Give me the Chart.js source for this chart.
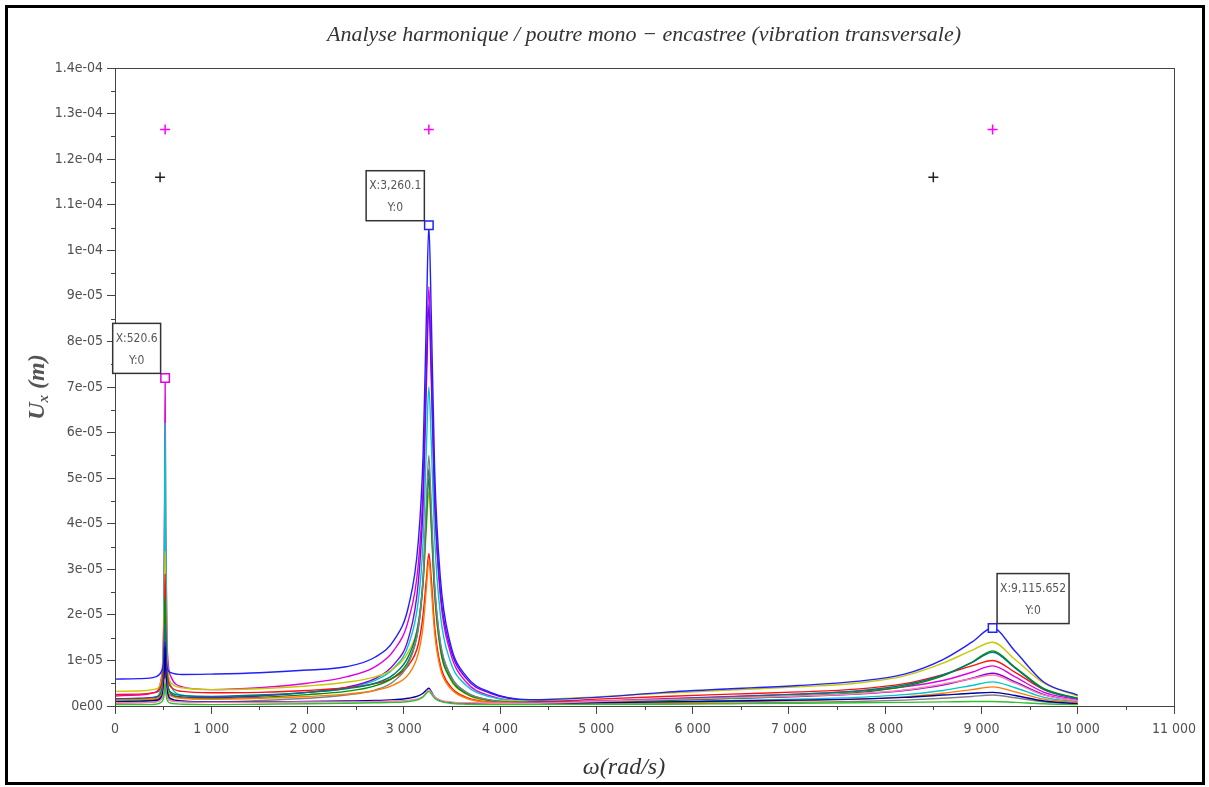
<!DOCTYPE html>
<html>
<head>
<meta charset="utf-8">
<script src="https://cdn.jsdelivr.net/npm/chart.js@4.4.1/dist/chart.umd.min.js"></script>
<style>
  html, body { margin: 0; padding: 0; background: #fff; }
  #wrap { width: 1209px; height: 787px; }
</style>
</head>
<body>
<div id="wrap"><canvas id="chart" width="1209" height="787"></canvas></div>
<script>
//frequencies (rad/s) shared by every curve
const omega = [0, 250, 420, 480, 505, 515, 520.6, 527, 540, 580, 700, 1000, 1500, 2000, 2400, 2700, 2900, 3050, 3150, 3200,
  3235, 3260.1, 3285, 3320, 3380, 3480, 3650, 3900, 4300, 5000, 5700, 6400, 7100, 7700, 8200, 8600, 8900, 9115.652, 9350, 9650, 10000];

//amplitude of each curve, in micrometres
const uBlue = [5.9, 6.0, 6.4, 7.5, 9.5, 12.5, 14.0, 11.5, 8.5, 7.3, 6.9, 7.0, 7.3, 7.9, 8.6, 10.7, 14.5, 22, 36, 55,
  86, 105.5, 86, 52, 28, 14, 6.5, 3.0, 1.4, 1.9, 3.0, 3.8, 4.5, 5.4, 7.0, 10.2, 14.0, 17.1, 12.0, 5.2, 2.4];
const uMagenta = [2.2, 2.4, 3.0, 6.0, 18, 45, 72, 40, 14, 6.5, 4.2, 3.6, 4.0, 5.0, 6.4, 8.6, 12.3, 19, 31, 48,
  75, 92, 75, 46, 24, 12, 5.2, 2.2, 1.0, 1.1, 1.6, 2.1, 2.6, 3.2, 4.2, 5.6, 7.4, 8.8, 6.4, 3.0, 1.4];
const uPurple = [1.6, 1.7, 2.0, 2.8, 4.5, 7.5, 10, 6.8, 3.6, 2.4, 2.0, 1.8, 2.2, 3.0, 4.1, 6.0, 9.2, 15, 27, 44,
  71, 88, 72, 45, 25, 13, 6.0, 2.8, 1.2, 0.9, 1.3, 1.7, 2.1, 2.6, 3.4, 4.6, 6.1, 7.2, 5.3, 2.5, 1.1];
const uCyan = [1.1, 1.2, 1.6, 4.5, 15, 40, 62, 36, 12, 4.5, 2.4, 2.0, 2.3, 3.0, 3.9, 5.6, 8.4, 13.5, 23, 36,
  57, 70, 58, 37, 20, 10, 4.5, 2.0, 0.9, 0.6, 0.9, 1.2, 1.5, 1.9, 2.5, 3.4, 4.5, 5.3, 4.0, 1.9, 0.9];
const uGray = [0.6, 0.7, 0.9, 1.6, 3.2, 5.8, 8, 5.4, 2.6, 1.4, 1.0, 0.9, 1.2, 1.7, 2.4, 3.5, 5.5, 9.5, 17, 28,
  45, 55, 44, 27, 14, 7, 3.0, 1.3, 0.5, 0.4, 0.5, 0.6, 0.8, 1.0, 1.3, 1.7, 2.1, 2.4, 1.8, 0.9, 0.4];
const uTeal = [1.5, 1.6, 1.9, 3.2, 7.0, 13, 18, 12, 5.5, 3.0, 2.3, 2.1, 2.4, 3.0, 3.8, 5.0, 7.0, 11, 18, 28,
  43, 52, 42, 26, 13.5, 6.8, 3.0, 1.3, 0.8, 1.0, 1.5, 2.0, 2.6, 3.3, 4.6, 6.8, 9.5, 11.8, 8.3, 3.6, 1.6];
const uGreen = [1.0, 1.1, 1.4, 3.0, 8.0, 16, 24, 15, 6.5, 2.8, 1.8, 1.6, 1.9, 2.5, 3.2, 4.4, 6.4, 10, 17, 27,
  41, 50, 40, 25, 12.5, 6.2, 2.7, 1.2, 0.6, 0.8, 1.2, 1.7, 2.2, 2.9, 4.3, 6.6, 9.6, 12.1, 8.5, 3.8, 1.7];
const uOlive = [3.2, 3.3, 3.7, 5.5, 12, 24, 34, 22, 9.5, 5.2, 4.0, 3.6, 3.8, 4.4, 5.2, 6.4, 8.3, 12, 18, 27,
  39, 47, 39, 24, 12.5, 6.0, 2.6, 1.2, 1.3, 2.0, 2.8, 3.5, 4.2, 5.0, 6.6, 9.4, 12.2, 14, 10.2, 5.0, 2.2];
const uRed = [2.5, 2.6, 3.0, 4.6, 10.5, 20, 29, 19, 8.0, 4.2, 3.2, 2.9, 3.0, 3.4, 4.0, 4.9, 6.3, 9.0, 13.5, 20,
  28, 33.5, 28, 17.5, 9.0, 4.4, 1.9, 0.9, 0.8, 1.5, 2.1, 2.6, 3.1, 3.7, 4.9, 6.9, 8.8, 10, 7.4, 3.6, 1.6];
const uOrange = [1.3, 1.4, 1.6, 2.4, 5.0, 9.0, 12, 8.2, 4.0, 2.2, 1.7, 1.5, 1.7, 2.1, 2.6, 3.4, 4.7, 7.0, 11.5, 17.5,
  26, 32, 26, 16, 8.2, 4.0, 1.7, 0.8, 0.4, 0.5, 0.7, 0.9, 1.2, 1.5, 2.0, 2.8, 3.6, 4.2, 3.1, 1.5, 0.7];
const uPink = [0.7, 0.8, 0.9, 1.4, 2.6, 4.4, 6.0, 4.0, 2.0, 1.1, 0.9, 0.8, 0.8, 0.9, 0.9, 1.0, 1.1, 1.3, 1.6, 2.1,
  3.0, 3.6, 3.0, 2.0, 1.3, 0.9, 0.7, 0.6, 0.6, 1.0, 1.4, 1.8, 2.2, 2.7, 3.5, 4.8, 6.0, 6.8, 5.0, 2.4, 1.1];
const uNavy = [0.9, 1.0, 1.2, 2.0, 4.5, 9.0, 13, 8.5, 3.6, 1.6, 1.1, 0.9, 0.9, 1.0, 1.1, 1.2, 1.4, 1.7, 2.2, 2.8,
  3.5, 3.9, 3.2, 2.0, 1.2, 0.8, 0.6, 0.5, 0.5, 0.7, 0.9, 1.1, 1.3, 1.5, 1.9, 2.4, 2.8, 3.0, 2.3, 1.1, 0.5];
const uLime = [0.3, 0.3, 0.4, 0.8, 1.8, 3.4, 5.0, 3.2, 1.4, 0.6, 0.4, 0.3, 0.4, 0.5, 0.6, 0.7, 0.8, 1.0, 1.4, 2.0,
  2.8, 3.2, 2.7, 1.7, 1.0, 0.6, 0.4, 0.3, 0.3, 0.4, 0.4, 0.5, 0.6, 0.7, 0.8, 0.9, 1.0, 1.0, 0.8, 0.5, 0.3];

//datatips (picked points)
const tipX = [520.6, 3260.1, 9115.652];
const tipY = [72, 105.5, 17.1];
const tipLabels = [["X:520.6", "Y:0"], ["X:3,260.1", "Y:0"], ["X:9,115.652", "Y:0"]];

//"+" markers
const plusMagentaX = [520.6, 3260.1, 9115.652];
const plusMagentaY = [126.5, 126.5, 126.5];
const plusBlackX = [468, 8500];
const plusBlackY = [116, 116];

//axis ticks
const xTicks = [0, 1000, 2000, 3000, 4000, 5000, 6000, 7000, 8000, 9000, 10000, 11000];
const yTicks = [0, 10, 20, 30, 40, 50, 60, 70, 80, 90, 100, 110, 120, 130, 140];

const labelFont = "'DejaVu Sans Condensed', 'Liberation Sans Narrow', sans-serif";
const titleFont = "'Liberation Serif', 'DejaVu Serif', serif";

const toPoints = (xs, ys) => xs.map((x, i) => ({ x: x, y: ys[i] }));

//first in list is drawn on top (smaller peaks above bigger ones, like the original)
const curves = [
  { data: uLime, color: "#30c030" },
  { data: uPink, color: "#ff80b0" },
  { data: uNavy, color: "#0000a0" },
  { data: uOrange, color: "#ff7a00" },
  { data: uGray, color: "#808080" },
  { data: uBlue, color: "#2020ff" },
  { data: uTeal, color: "#007878" },
  { data: uGreen, color: "#009000" },
  { data: uRed, color: "#ff1010" },
  { data: uOlive, color: "#c8c800" },
  { data: uPurple, color: "#8000e0" },
  { data: uCyan, color: "#00c8c8" },
  { data: uMagenta, color: "#e000e0" },
];

const datasets = [
  {
    data: toPoints(tipX, tipY),
    showLine: false,
    pointStyle: "rect",
    pointRadius: 6,
    pointBorderWidth: 1.5,
    pointBackgroundColor: "#ffffff",
    pointBorderColor: ["#e000e0", "#2020ff", "#2020ff"],
  },
  {
    data: toPoints(plusMagentaX, plusMagentaY),
    showLine: false,
    pointStyle: "cross",
    pointRadius: 5,
    pointBorderWidth: 1.5,
    pointBorderColor: "#ff00ff",
  },
  {
    data: toPoints(plusBlackX, plusBlackY),
    showLine: false,
    pointStyle: "cross",
    pointRadius: 5,
    pointBorderWidth: 1.5,
    pointBorderColor: "#222222",
  },
];
curves.forEach((c) => {
  datasets.push({
    data: toPoints(omega, c.data),
    borderColor: c.color,
    borderWidth: 1.4,
    pointRadius: 0,
    cubicInterpolationMode: "monotone",
    fill: false,
  });
});

//y labels like scilab : 1.4e-04, 9e-05, 0e00
const yLabel = (v) => {
  if (v === 0) return "0e00";
  let m = v;
  let e = -6;
  while (m >= 10) { m /= 10; e++; }
  return `${+m.toFixed(1)}e-0${-e}`;
};
const xLabel = (v) => String(v).replace(/\B(?=(\d{3})+(?!\d))/g, " ");

//frame, minor ticks, titles and datatip boxes
const decor = {
  id: "decor",
  beforeDraw(chart) {
    const ctx = chart.ctx;
    ctx.save();
    ctx.fillStyle = "#ffffff";
    ctx.fillRect(0, 0, chart.width, chart.height);
    ctx.restore();
  },
  afterDraw(chart) {
    const ctx = chart.ctx;
    const a = chart.chartArea;
    const xs = chart.scales.x;
    const ys = chart.scales.y;
    ctx.save();
    //box around plot
    ctx.strokeStyle = "#444";
    ctx.lineWidth = 1;
    ctx.strokeRect(a.left + 0.5, a.top + 0.5, a.right - a.left, a.bottom - a.top);
    //minor ticks
    ctx.beginPath();
    for (let v = 500; v < 11000; v += 1000) {
      const px = Math.round(xs.getPixelForValue(v)) + 0.5;
      ctx.moveTo(px, a.bottom);
      ctx.lineTo(px, a.bottom + 4);
    }
    for (let v = 5; v < 140; v += 10) {
      const py = Math.round(ys.getPixelForValue(v)) + 0.5;
      ctx.moveTo(a.left, py);
      ctx.lineTo(a.left - 4, py);
    }
    ctx.stroke();

    //outer frame
    ctx.strokeStyle = "#000";
    ctx.lineWidth = 3;
    ctx.strokeRect(6.5, 6.5, 1197, 777);

    //title
    ctx.fillStyle = "#333";
    ctx.textAlign = "center";
    ctx.textBaseline = "middle";
    ctx.font = `italic 22px ${titleFont}`;
    ctx.fillText("Analyse harmonique / poutre mono \u2212 encastree (vibration transversale)", 644, 35);

    //x axis title
    ctx.font = `italic 24px ${titleFont}`;
    ctx.fillText("\u03c9(rad/s)", 624, 768);

    //y axis title with subscript
    ctx.save();
    ctx.translate(36, 387);
    ctx.rotate(-Math.PI / 2);
    ctx.fillStyle = "#555";
    ctx.textAlign = "left";
    ctx.textBaseline = "alphabetic";
    const big = `italic bold 24px ${titleFont}`;
    const small = `italic bold 15px ${titleFont}`;
    ctx.font = big;
    const wU = ctx.measureText("U").width;
    const wM = ctx.measureText(" (m)").width;
    ctx.font = small;
    const wx = ctx.measureText("x").width;
    let x0 = -(wU + wx + wM) / 2;
    ctx.font = big;
    ctx.fillText("U", x0, 8);
    ctx.font = small;
    ctx.fillText("x", x0 + wU, 12);
    ctx.font = big;
    ctx.fillText(" (m)", x0 + wU + wx, 8);
    ctx.restore();

    //datatip boxes
    ctx.font = `12px ${labelFont}`;
    ctx.lineWidth = 1.5;
    ctx.strokeStyle = "#333";
    tipX.forEach((tx, i) => {
      const px = xs.getPixelForValue(tx);
      const py = ys.getPixelForValue(tipY[i]);
      const lines = tipLabels[i];
      const w = Math.max(...lines.map((l) => ctx.measureText(l).width)) + 6;
      const h = 50;
      const left = i === 2 ? px + 4.5 : px - 4.5 - w;
      const top = py - 4.5 - h;
      ctx.fillStyle = "#fff";
      ctx.fillRect(left, top, w, h);
      ctx.strokeRect(left, top, w, h);
      ctx.fillStyle = "#555";
      ctx.textAlign = "center";
      ctx.textBaseline = "middle";
      ctx.fillText(lines[0], left + w / 2, top + 15);
      ctx.fillText(lines[1], left + w / 2, top + 37);
    });
    ctx.restore();
  },
};

const myChart = new Chart(document.getElementById("chart"), {
  type: "line",
  data: { datasets: datasets },
  plugins: [decor],
  options: {
    responsive: false,
    animation: false,
    layout: { padding: { left: 0, top: 68, right: 35, bottom: 0 } },
    plugins: {
      legend: { display: false },
      tooltip: { enabled: false },
      title: { display: false },
    },
    scales: {
      x: {
        type: "linear",
        min: 0,
        max: 11000,
        afterFit: (s) => { s.height = 81; },
        afterBuildTicks: (s) => { s.ticks = xTicks.map((v) => ({ value: v })); },
        ticks: {
          callback: xLabel,
          color: "#505050",
          font: { family: labelFont, size: 14 },
          padding: 7,
          maxRotation: 0,
          autoSkip: false,
        },
        grid: { drawOnChartArea: false, tickLength: 8, tickColor: "#444" },
        border: { color: "#444" },
      },
      y: {
        type: "linear",
        min: 0,
        max: 140,
        afterFit: (s) => { s.width = 115; },
        afterBuildTicks: (s) => { s.ticks = yTicks.map((v) => ({ value: v })); },
        ticks: {
          callback: yLabel,
          color: "#505050",
          font: { family: labelFont, size: 14 },
          padding: 4,
          autoSkip: false,
        },
        grid: { drawOnChartArea: false, tickLength: 8, tickColor: "#444" },
        border: { color: "#444" },
      },
    },
  },
});
</script>
</body>
</html>
